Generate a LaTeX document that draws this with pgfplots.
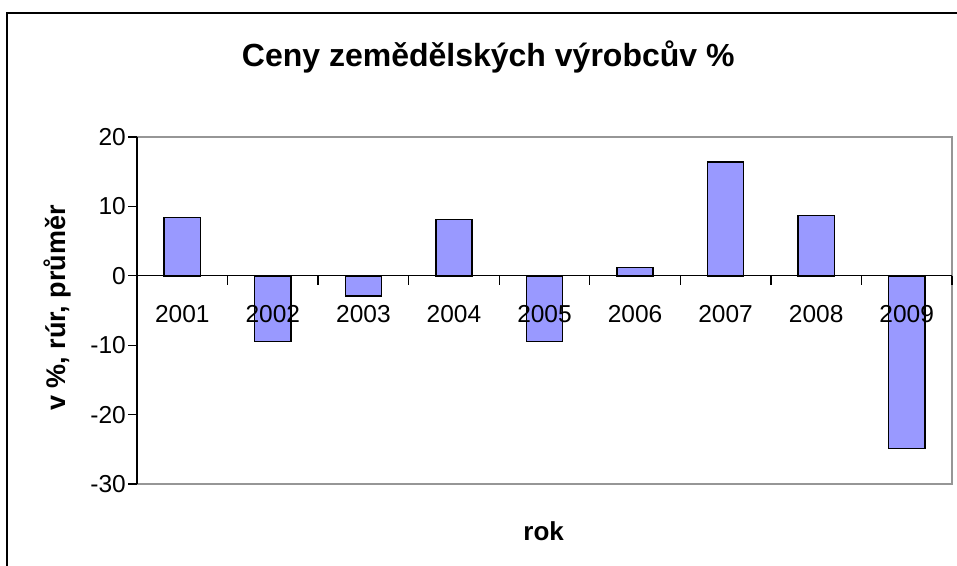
\documentclass[border=0pt]{standalone}
\usepackage{pgfplots}
\pgfplotsset{compat=1.18}
\usepackage{fontspec}
\setmainfont{Liberation Sans}
\definecolor{barblue}{RGB}{153,153,255}
\definecolor{boxgray}{RGB}{150,150,150}

\begin{document}
\begin{tikzpicture}
\useasboundingbox (0,0) rectangle (957bp,566bp);
% chart frame (only left and top edges are in view)
\draw[line width=2bp] (7bp,0) -- (7bp,553bp) -- (957bp,553bp);
\begin{axis}[
  at={(137bp,82bp)}, anchor=south west,
  width=815bp, height=347bp, scale only axis,
  axis on top,
  axis x line*=middle,
  axis y line*=left,
  axis line style={black, line width=1.3bp, -},
  xmin=-0.5, xmax=8.5,
  ymin=-30, ymax=20,
  ytick={-30,-20,-10,0,10,20},
  xtick={0,...,8},
  xticklabels={2001,2002,2003,2004,2005,2006,2007,2008,2009},
  minor xtick={-0.5,0.5,...,8.5},
  major x tick style={draw=none},
  minor x tick style={black, line width=1.3bp},
  minor tick length=8.7bp,
  xtick align=outside,
  ytick align=outside,
  y tick style={black, line width=1.3bp},
  major tick length=8.7bp,
  /pgf/number format/assume math mode=true,
  ticklabel style={font=\fontsize{24.5bp}{28bp}\selectfont},
  xticklabel style={yshift=-17bp},
  yticklabel style={xshift=1bp},
  ybar,
  bar width=0.4,
  title={\textbf{Ceny zemědělských výrobcův \%}},
  title style={at={(axis description cs:0.431,1.213)}, anchor=center,
    font=\fontsize{32bp}{36bp}\selectfont},
  xlabel={\textbf{rok}},
  xlabel style={at={(axis description cs:0.499,-0.135)}, anchor=center,
    font=\fontsize{26bp}{30bp}\selectfont},
  ylabel={\textbf{v \%, rúr, průměr}},
  ylabel style={at={(axis description cs:-0.098,0.507)}, anchor=center,
    rotate=0, font=\fontsize{27bp}{31bp}\selectfont},
  clip=false,
]
\draw[boxgray, line width=1.5bp] (rel axis cs:0,1) -- (rel axis cs:1,1)
  -- (rel axis cs:1,0) -- (rel axis cs:0,0);
\addplot[fill=barblue, draw=black, line width=1.5bp] coordinates {
  (0,8.4) (1,-9.5) (2,-2.9) (3,8.1) (4,-9.5)
  (5,1.2) (6,16.4) (7,8.7) (8,-24.9)
};
\end{axis}
\end{tikzpicture}
\end{document}
